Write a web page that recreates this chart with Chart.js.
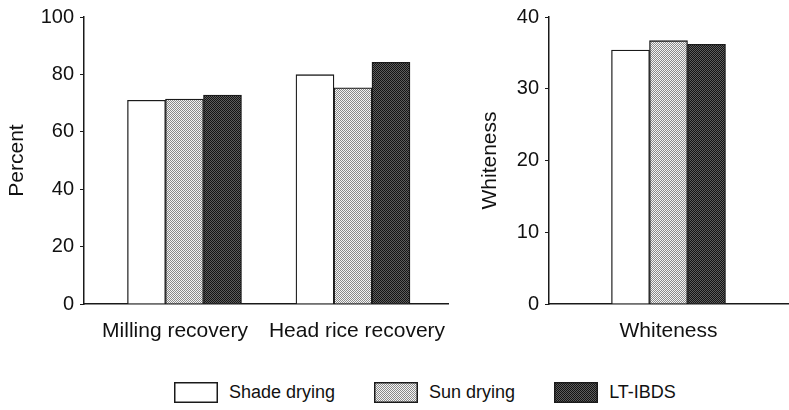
<!DOCTYPE html>
<html>
<head>
<meta charset="utf-8">
<script src="https://cdn.jsdelivr.net/npm/chart.js@4/dist/chart.umd.min.js"></script>
<style>
  html, body { margin: 0; padding: 0; background: #fff; }
  body { width: 789px; height: 410px; position: relative; overflow: hidden; font-family: "Liberation Sans", Arial, sans-serif; }
  #left { position: absolute; left: 0; top: 0; }
  #right { position: absolute; left: 455px; top: 0; }
  #legend { position: absolute; left: 174px; top: 382px; display: flex; align-items: center; gap: 39px; font-size: 18px; color: #111; }
  .item { display: flex; align-items: center; gap: 11px; }
  .item canvas { display: block; box-sizing: border-box; }
</style>
</head>
<body>
<canvas id="left" width="455" height="350"></canvas>
<canvas id="right" width="334" height="350"></canvas>
<div id="legend"></div>
<script>
// ---- data ----
const categoriesLeft = ['Milling recovery', 'Head rice recovery'];
const categoriesRight = ['Whiteness'];
const seriesNames = ['Shade drying', 'Sun drying', 'LT-IBDS'];
const shadeLeft = [71.0, 79.9];
const sunLeft = [71.4, 75.3];
const ltLeft = [72.8, 84.2];
const shadeRight = [35.4];
const sunRight = [36.7];
const ltRight = [36.2];
const leftAxisTitle = 'Percent';
const rightAxisTitle = 'Whiteness';

// ---- styles ----
function makePattern(base, dot) {
  const p = document.createElement('canvas');
  p.width = 2; p.height = 2;
  const g = p.getContext('2d');
  g.fillStyle = base; g.fillRect(0, 0, 2, 2);
  g.fillStyle = dot; g.fillRect(0, 0, 1, 1); g.fillRect(1, 1, 1, 1);
  return g.createPattern(p, 'repeat');
}
const fills = ['#ffffff', makePattern('#f4f4f4', '#8a8a8a'), makePattern('#5e5e5e', '#141414')];
const ink = '#1a1a1a';
const FONT = '"Liberation Sans", Arial, Helvetica, sans-serif';

function toPoints(vals) { return vals.map((v, i) => ({ x: i + 1, y: v })); }

function buildChart(el, cats, seriesVals, yMax, yStep, title, xMin, xMax, pad, yWidth) {
  return new Chart(el, {
    type: 'bar',
    data: {
      datasets: seriesVals.map((vals, k) => ({
        label: seriesNames[k],
        data: toPoints(vals),
        backgroundColor: fills[k],
        borderColor: ink,
        borderWidth: 1.3,
        barThickness: 38,
        borderSkipped: 'bottom'
      }))
    },
    options: {
      responsive: false,
      animation: false,
      devicePixelRatio: 1,
      layout: { padding: pad },
      plugins: { legend: { display: false }, tooltip: { enabled: false } },
      scales: {
        x: {
          type: 'linear',
          min: xMin, max: xMax,
          offset: false,
          grid: { display: false, drawTicks: false, offset: false },
          border: { display: true, color: ink, width: 1.5 },
          // category labels centred in equal bands across the axis
          afterBuildTicks: (s) => {
            const band = (xMax - xMin) / cats.length;
            s.ticks = cats.map((c, i) => ({ value: xMin + band * (i + 0.5), label: c }));
          },
          afterFit: (s) => { s.height = 46; s.paddingLeft = 0; s.paddingRight = 0; },
          ticks: {
            padding: 15,
            maxRotation: 0,
            autoSkip: false,
            color: '#111',
            font: { family: FONT, size: 21 },
            callback: function (v, i) { return cats[i]; }
          }
        },
        y: {
          min: 0, max: yMax,
          grid: { display: true, drawOnChartArea: false, drawTicks: true, tickLength: 4, color: ink, lineWidth: 1 },
          border: { display: true, color: ink, width: 1.5 },
          afterFit: (s) => { s.width = yWidth; s.paddingTop = 0; s.paddingBottom = 0; },
          title: { display: true, text: title, color: '#111', font: { family: FONT, size: 21 }, padding: { top: 4, bottom: 4 } },
          ticks: { stepSize: yStep, padding: 6, color: '#111', font: { family: FONT, size: 20 } }
        }
      }
    }
  });
}

buildChart(document.getElementById('left'), categoriesLeft, [shadeLeft, sunLeft, ltLeft],
  100, 20, leftAxisTitle, 0.4036, 2.564, { left: 1, top: 17, right: 7, bottom: 0 }, 83);
buildChart(document.getElementById('right'), categoriesRight, [shadeRight, sunRight, ltRight],
  40, 10, rightAxisTitle, 0, 2, { left: 19, top: 17, right: 1, bottom: 0 }, 75);

// ---- legend ----
const legend = document.getElementById('legend');
seriesNames.forEach((name, k) => {
  const item = document.createElement('div');
  item.className = 'item';
  const c = document.createElement('canvas');
  c.width = 44; c.height = 21;
  const g = c.getContext('2d');
  g.fillStyle = fills[k]; g.fillRect(0, 0, 44, 21);
  g.strokeStyle = ink; g.lineWidth = 1.5; g.strokeRect(0.75, 0.75, 42.5, 19.5);
  const t = document.createElement('span');
  t.textContent = name;
  item.appendChild(c); item.appendChild(t);
  legend.appendChild(item);
});
</script>
</body>
</html>
